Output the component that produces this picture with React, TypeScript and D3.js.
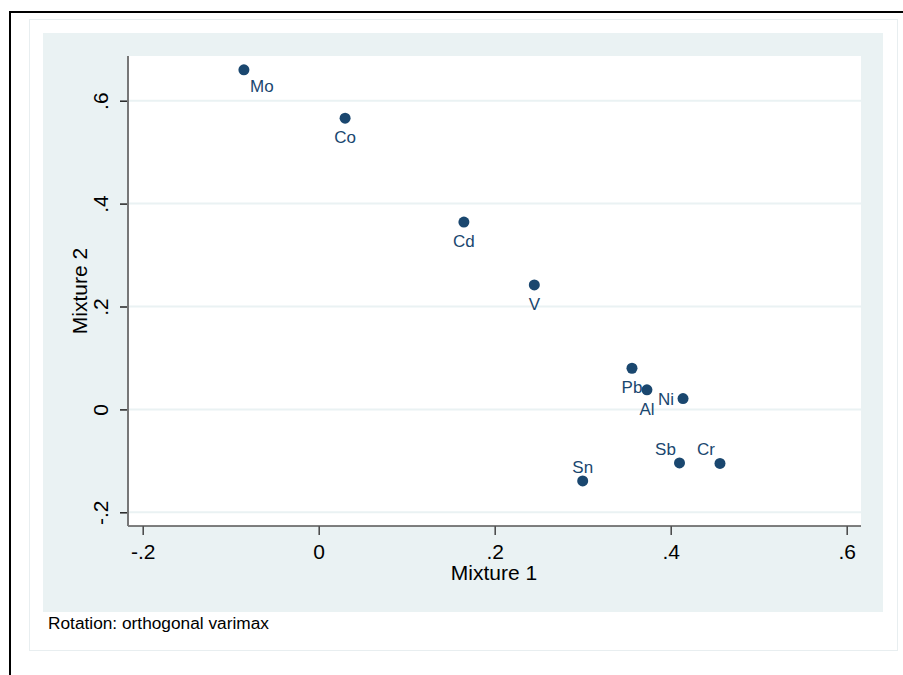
import React, { useEffect, useRef } from "react";
import * as d3 from "d3";

// loadings
const elements = ["Mo", "Co", "Cd", "V", "Pb", "Al", "Ni", "Sb", "Cr", "Sn"];
const mixture1 = [-0.085, 0.03, 0.165, 0.245, 0.356, 0.373, 0.414, 0.41, 0.456, 0.3];
const mixture2 = [0.66, 0.566, 0.364, 0.242, 0.08, 0.038, 0.021, -0.104, -0.105, -0.139];
// Stata-like clock position of each marker label
const labelClock = [4, 6, 6, 6, 6, 6, 9, 10, 10, 12];

const xTicks = [-0.2, 0, 0.2, 0.4, 0.6];
const yTicks = [-0.2, 0, 0.2, 0.4, 0.6];

const FONT = "'Liberation Sans', Arial, Helvetica, sans-serif";
const NAVY = "#1a476f";
const PANEL = "#eaf2f3";

// stata style: "-.2", ".4", "0"
const fmt = (d: number) =>
  d === 0 ? "0" : d3.format(".1f")(d).replace("\u2212", "-").replace("0.", ".");

// label offset (center of text) for each clock position
const clockOffset: Record<number, [number, number]> = {
  4: [18, 16],
  6: [0, 19],
  9: [-17, 0],
  10: [-14, -14],
  12: [0, -14],
};

export default function App() {
  const ref = useRef<SVGSVGElement>(null);

  useEffect(() => {
    const svg = d3.select(ref.current);
    svg.selectAll("*").remove();

    const plot = { left: 128, right: 861, top: 56, bottom: 526 };

    // outer frame bits
    svg.append("rect").attr("x", 29.5).attr("y", 19.5).attr("width", 868).attr("height", 631)
      .attr("fill", "white").attr("stroke", "#e8eef0").attr("stroke-width", 1);
    svg.append("line").attr("x1", 9).attr("x2", 903).attr("y1", 12).attr("y2", 12)
      .attr("stroke", "black").attr("stroke-width", 2);
    svg.append("line").attr("x1", 10).attr("x2", 10).attr("y1", 11).attr("y2", 675)
      .attr("stroke", "black").attr("stroke-width", 2);

    // graph region
    svg.append("rect").attr("x", 43).attr("y", 33).attr("width", 840).attr("height", 579)
      .attr("fill", PANEL);
    svg.append("rect").attr("x", plot.left).attr("y", plot.top)
      .attr("width", plot.right - plot.left).attr("height", plot.bottom - plot.top)
      .attr("fill", "white");

    const x = d3.scaleLinear().domain([-0.2, 0.6]).range([142.7, 846.7]);
    const y = d3.scaleLinear().domain([-0.2, 0.6]).range([512.3, 100.7]);

    // grid
    svg.append("g").selectAll("line").data(yTicks).enter().append("line")
      .attr("x1", plot.left).attr("x2", plot.right)
      .attr("y1", d => y(d)).attr("y2", d => y(d))
      .attr("stroke", PANEL).attr("stroke-width", 2);

    // x axis
    const gx = svg.append("g").attr("transform", "translate(0," + plot.bottom + ")")
      .call(d3.axisBottom(x).tickValues(xTicks).tickFormat(d => fmt(+d)).tickSize(9).tickPadding(9).tickSizeOuter(0));
    gx.select(".domain").remove();
    gx.selectAll(".tick line").attr("stroke", "#444").attr("stroke-width", 1.5);
    gx.selectAll("text").attr("font-family", FONT).attr("font-size", 21).attr("fill", "black");
    svg.append("line").attr("x1", plot.left).attr("x2", plot.right)
      .attr("y1", plot.bottom).attr("y2", plot.bottom)
      .attr("stroke", "#555").attr("stroke-width", 1.5);

    // y axis
    const gy = svg.append("g").attr("transform", "translate(" + plot.left + ",0)")
      .call(d3.axisLeft(y).tickValues(yTicks).tickFormat(d => fmt(+d)).tickSize(8).tickSizeOuter(0));
    gy.select(".domain").remove();
    gy.selectAll(".tick line").attr("stroke", "#222").attr("stroke-width", 1.5);
    gy.selectAll("text")
      .attr("transform", "rotate(-90)")
      .attr("x", 0).attr("y", -20).attr("dy", 0)
      .attr("text-anchor", "middle")
      .attr("font-family", FONT).attr("font-size", 21).attr("fill", "black");
    svg.append("line").attr("x1", plot.left).attr("x2", plot.left)
      .attr("y1", plot.top).attr("y2", plot.bottom)
      .attr("stroke", "#777").attr("stroke-width", 2);

    // titles
    svg.append("text").attr("x", 494).attr("y", 580).attr("text-anchor", "middle")
      .attr("font-family", FONT).attr("font-size", 21).text("Mixture 1");
    svg.append("text").attr("transform", "translate(87,291) rotate(-90)").attr("text-anchor", "middle")
      .attr("font-family", FONT).attr("font-size", 21).text("Mixture 2");
    svg.append("text").attr("x", 48).attr("y", 629)
      .attr("font-family", FONT).attr("font-size", 17.3).text("Rotation: orthogonal varimax");

    // points + labels
    const idx = d3.range(elements.length);
    svg.append("g").selectAll("circle").data(idx).enter().append("circle")
      .attr("cx", i => x(mixture1[i])).attr("cy", i => y(mixture2[i]))
      .attr("r", 5.5).attr("fill", NAVY);
    svg.append("g").selectAll("text").data(idx).enter().append("text")
      .attr("x", i => x(mixture1[i]) + clockOffset[labelClock[i]][0])
      .attr("y", i => y(mixture2[i]) + clockOffset[labelClock[i]][1] + 6)
      .attr("text-anchor", "middle")
      .attr("font-family", FONT).attr("font-size", 17).attr("fill", NAVY)
      .text(i => elements[i]);
  }, []);

  return (
    <svg ref={ref} width={903} height={675}
      style={{ position: "absolute", left: 0, top: 0, background: "white" }} />
  );
}
